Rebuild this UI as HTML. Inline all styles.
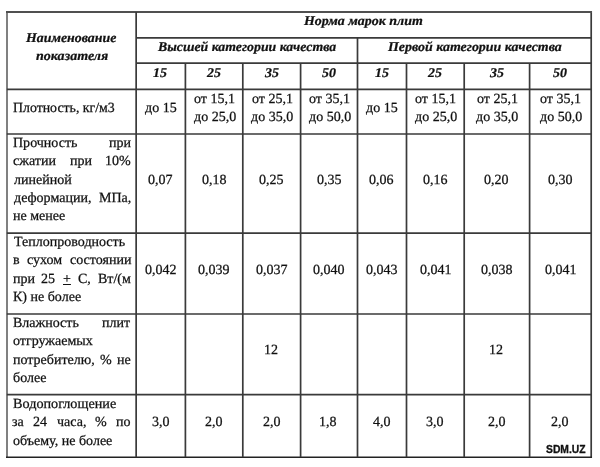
<!DOCTYPE html>
<html><head><meta charset="utf-8"><style>
html,body{margin:0;padding:0;background:#fff}
body{width:600px;height:467px;position:relative;overflow:hidden}
svg{position:absolute;left:0;top:0}
.r,.bi,.w{position:absolute;white-space:pre;line-height:20px;color:#111;transform-origin:0 14px}
.r{-webkit-text-stroke:0.25px #111}
.bi{-webkit-text-stroke:0.25px #111}
.r{font-family:"Liberation Serif",serif;font-size:14.0px;text-rendering:geometricPrecision}
.bi{font-family:"Liberation Serif",serif;font-size:14.0px;font-style:italic;font-weight:bold;text-rendering:geometricPrecision}
.w{font-family:"Liberation Sans",sans-serif;font-weight:bold;font-size:10.5px;color:#111;-webkit-text-stroke:0.3px #111}
</style></head><body>
<svg width="600" height="467" viewBox="0 0 600 467"><line x1="7.0" y1="11" x2="7.0" y2="458" stroke="#808080" stroke-width="2"/><line x1="591.2" y1="11" x2="591.2" y2="458" stroke="#3a3a3a" stroke-width="1.7"/><line x1="6" y1="12.0" x2="592" y2="12.0" stroke="#505050" stroke-width="2"/><line x1="6" y1="457.2" x2="592" y2="457.2" stroke="#222" stroke-width="1.6"/><line x1="136.15" y1="12.1" x2="136.15" y2="457.2" stroke="#3a3a3a" stroke-width="1.7"/><line x1="136.15" y1="37.85" x2="591.2" y2="37.85" stroke="#3a3a3a" stroke-width="1.7"/><line x1="136.15" y1="63.2" x2="591.2" y2="63.2" stroke="#3a3a3a" stroke-width="1.7"/><line x1="6.85" y1="89.3" x2="591.2" y2="89.3" stroke="#3a3a3a" stroke-width="1.7"/><line x1="6.85" y1="134.0" x2="591.2" y2="134.0" stroke="#3a3a3a" stroke-width="1.7"/><line x1="6.85" y1="233.2" x2="591.2" y2="233.2" stroke="#3a3a3a" stroke-width="1.7"/><line x1="6.85" y1="314.0" x2="591.2" y2="314.0" stroke="#3a3a3a" stroke-width="1.7"/><line x1="6.85" y1="394.6" x2="591.2" y2="394.6" stroke="#3a3a3a" stroke-width="1.7"/><line x1="357.5" y1="37.85" x2="357.5" y2="457.2" stroke="#3a3a3a" stroke-width="1.7"/><line x1="185.4" y1="63.2" x2="185.4" y2="457.2" stroke="#3a3a3a" stroke-width="1.7"/><line x1="242.8" y1="63.2" x2="242.8" y2="457.2" stroke="#3a3a3a" stroke-width="1.7"/><line x1="300.6" y1="63.2" x2="300.6" y2="457.2" stroke="#3a3a3a" stroke-width="1.7"/><line x1="406.5" y1="63.2" x2="406.5" y2="457.2" stroke="#3a3a3a" stroke-width="1.7"/><line x1="464.2" y1="63.2" x2="464.2" y2="457.2" stroke="#3a3a3a" stroke-width="1.7"/><line x1="529.6" y1="63.2" x2="529.6" y2="457.2" stroke="#3a3a3a" stroke-width="1.7"/></svg>
<div class="bi" style="left:26.40px;top:29.00px;transform:scale(0.9912,0.95);transform-origin:0 13px">Наименование</div>
<div class="bi" style="left:36.00px;top:47.00px;transform:scale(1.0042,0.95);transform-origin:0 13px">показателя</div>
<div class="bi" style="left:304.20px;top:12.00px;transform:scale(0.9975,0.95);transform-origin:0 13px">Норма марок плит</div>
<div class="bi" style="left:157.50px;top:38.00px;transform:scale(0.9867,0.95);transform-origin:0 13px">Высшей категории качества</div>
<div class="bi" style="left:387.50px;top:38.00px;transform:scale(0.9954,0.95);transform-origin:0 13px">Первой категории качества</div>
<div class="bi" style="left:153.31px;top:64.00px;transform:scale(0.9954,0.95);transform-origin:0 13px">15</div>
<div class="bi" style="left:207.13px;top:64.00px;transform:scale(0.9954,0.95);transform-origin:0 13px">25</div>
<div class="bi" style="left:264.73px;top:64.00px;transform:scale(0.9954,0.95);transform-origin:0 13px">35</div>
<div class="bi" style="left:322.08px;top:64.00px;transform:scale(0.9954,0.95);transform-origin:0 13px">50</div>
<div class="bi" style="left:374.53px;top:64.00px;transform:scale(0.9954,0.95);transform-origin:0 13px">15</div>
<div class="bi" style="left:428.38px;top:64.00px;transform:scale(0.9954,0.95);transform-origin:0 13px">25</div>
<div class="bi" style="left:489.93px;top:64.00px;transform:scale(0.9954,0.95);transform-origin:0 13px">35</div>
<div class="bi" style="left:553.43px;top:64.00px;transform:scale(0.9954,0.95);transform-origin:0 13px">50</div>
<div class="r" style="left:13.01px;top:99.00px;transform:scale(0.9891,1.0);transform-origin:0 13px">Плотность, кг/м3</div>
<div class="r" style="left:12.60px;top:134.00px;transform:scale(1.0009,1.0);transform-origin:0 13px">Прочность</div>
<div class="r" style="left:108.78px;top:134.00px;transform:scale(1.0009,1.0);transform-origin:0 13px">при</div>
<div class="r" style="left:12.60px;top:152.00px;transform:scale(1.0009,1.0);transform-origin:0 13px">сжатии</div>
<div class="r" style="left:70.20px;top:152.00px;transform:scale(1.0009,1.0);transform-origin:0 13px">при</div>
<div class="r" style="left:104.78px;top:152.00px;transform:scale(1.0009,1.0);transform-origin:0 13px">10%</div>
<div class="r" style="left:13.60px;top:171.00px;transform:scale(1.0009,1.0);transform-origin:0 13px">линейной</div>
<div class="r" style="left:13.60px;top:189.00px;transform:scale(1.0009,1.0);transform-origin:0 13px">деформации,</div>
<div class="r" style="left:98.77px;top:189.00px;transform:scale(1.0009,1.0);transform-origin:0 13px">МПа,</div>
<div class="r" style="left:12.60px;top:207.00px;transform:scale(1.0009,1.0);transform-origin:0 13px">не менее</div>
<div class="r" style="left:13.90px;top:233.00px;transform:scale(1.0009,1.0);transform-origin:0 13px">Теплопроводность</div>
<div class="r" style="left:12.60px;top:251.00px;transform:scale(1.0009,1.0);transform-origin:0 13px">в</div>
<div class="r" style="left:27.16px;top:251.00px;transform:scale(1.0009,1.0);transform-origin:0 13px">сухом</div>
<div class="r" style="left:69.75px;top:251.00px;transform:scale(1.0009,1.0);transform-origin:0 13px">состоянии</div>
<div class="r" style="left:12.60px;top:270.00px;transform:scale(1.0009,1.0);transform-origin:0 13px">при</div>
<div class="r" style="left:41.15px;top:270.00px;transform:scale(1.0009,1.0);transform-origin:0 13px">25</div>
<div class="r" style="left:62.69px;top:270.00px;transform:scale(1.0009,1.0);transform-origin:0 13px"><u>+</u></div>
<div class="r" style="left:78.23px;top:270.00px;transform:scale(1.0009,1.0);transform-origin:0 13px">С,</div>
<div class="r" style="left:97.77px;top:270.00px;transform:scale(1.0009,1.0);transform-origin:0 13px">Вт/(м</div>
<div class="r" style="left:12.60px;top:288.00px;transform:scale(1.0009,1.0);transform-origin:0 13px">К) не более</div>
<div class="r" style="left:12.60px;top:314.00px;transform:scale(1.0009,1.0);transform-origin:0 13px">Влажность</div>
<div class="r" style="left:101.77px;top:314.00px;transform:scale(1.0009,1.0);transform-origin:0 13px">плит</div>
<div class="r" style="left:12.60px;top:332.00px;transform:scale(1.0009,1.0);transform-origin:0 13px">отгружаемых</div>
<div class="r" style="left:12.60px;top:351.00px;transform:scale(1.0009,1.0);transform-origin:0 13px">потребителю,</div>
<div class="r" style="left:99.73px;top:351.00px;transform:scale(1.0009,1.0);transform-origin:0 13px">%</div>
<div class="r" style="left:116.79px;top:351.00px;transform:scale(1.0009,1.0);transform-origin:0 13px">не</div>
<div class="r" style="left:12.60px;top:369.00px;transform:scale(1.0009,1.0);transform-origin:0 13px">более</div>
<div class="r" style="left:12.89px;top:395.00px;transform:scale(1.0140,1.0);transform-origin:0 13px">Водопоглощение</div>
<div class="r" style="left:11.60px;top:413.00px;transform:scale(1.0009,1.0);transform-origin:0 13px">за</div>
<div class="r" style="left:32.64px;top:413.00px;transform:scale(1.0009,1.0);transform-origin:0 13px">24</div>
<div class="r" style="left:56.69px;top:413.00px;transform:scale(1.0009,1.0);transform-origin:0 13px">часа,</div>
<div class="r" style="left:94.74px;top:413.00px;transform:scale(1.0009,1.0);transform-origin:0 13px">%</div>
<div class="r" style="left:115.79px;top:413.00px;transform:scale(1.0009,1.0);transform-origin:0 13px">по</div>
<div class="r" style="left:12.60px;top:432.00px;transform:scale(1.0009,1.0);transform-origin:0 13px">объему, не более</div>
<div class="r" style="left:145.26px;top:99.00px;transform:scale(1.0009,1.0);transform-origin:0 13px">до 15</div>
<div class="r" style="left:194.08px;top:90.00px;transform:scale(1.0009,1.0);transform-origin:0 13px">от 15,1</div>
<div class="r" style="left:193.58px;top:108.00px;transform:scale(1.0009,1.0);transform-origin:0 13px">до 25,0</div>
<div class="r" style="left:251.68px;top:90.00px;transform:scale(1.0009,1.0);transform-origin:0 13px">от 25,1</div>
<div class="r" style="left:251.18px;top:108.00px;transform:scale(1.0009,1.0);transform-origin:0 13px">до 35,0</div>
<div class="r" style="left:309.03px;top:90.00px;transform:scale(1.0009,1.0);transform-origin:0 13px">от 35,1</div>
<div class="r" style="left:308.53px;top:108.00px;transform:scale(1.0009,1.0);transform-origin:0 13px">до 50,0</div>
<div class="r" style="left:366.49px;top:99.00px;transform:scale(1.0009,1.0);transform-origin:0 13px">до 15</div>
<div class="r" style="left:415.33px;top:90.00px;transform:scale(1.0009,1.0);transform-origin:0 13px">от 15,1</div>
<div class="r" style="left:414.83px;top:108.00px;transform:scale(1.0009,1.0);transform-origin:0 13px">до 25,0</div>
<div class="r" style="left:476.88px;top:90.00px;transform:scale(1.0009,1.0);transform-origin:0 13px">от 25,1</div>
<div class="r" style="left:476.38px;top:108.00px;transform:scale(1.0009,1.0);transform-origin:0 13px">до 35,0</div>
<div class="r" style="left:540.38px;top:90.00px;transform:scale(1.0009,1.0);transform-origin:0 13px">от 35,1</div>
<div class="r" style="left:539.88px;top:108.00px;transform:scale(1.0009,1.0);transform-origin:0 13px">до 50,0</div>
<div class="r" style="left:148.26px;top:171.00px;transform:scale(1.0009,1.0);transform-origin:0 13px">0,07</div>
<div class="r" style="left:201.59px;top:171.00px;transform:scale(1.0009,1.0);transform-origin:0 13px">0,18</div>
<div class="r" style="left:259.19px;top:171.00px;transform:scale(1.0009,1.0);transform-origin:0 13px">0,25</div>
<div class="r" style="left:316.54px;top:171.00px;transform:scale(1.0009,1.0);transform-origin:0 13px">0,35</div>
<div class="r" style="left:369.49px;top:171.00px;transform:scale(1.0009,1.0);transform-origin:0 13px">0,06</div>
<div class="r" style="left:422.84px;top:171.00px;transform:scale(1.0009,1.0);transform-origin:0 13px">0,16</div>
<div class="r" style="left:484.39px;top:171.00px;transform:scale(1.0009,1.0);transform-origin:0 13px">0,20</div>
<div class="r" style="left:547.89px;top:171.00px;transform:scale(1.0009,1.0);transform-origin:0 13px">0,30</div>
<div class="r" style="left:144.76px;top:261.00px;transform:scale(1.0009,1.0);transform-origin:0 13px">0,042</div>
<div class="r" style="left:198.09px;top:261.00px;transform:scale(1.0009,1.0);transform-origin:0 13px">0,039</div>
<div class="r" style="left:255.69px;top:261.00px;transform:scale(1.0009,1.0);transform-origin:0 13px">0,037</div>
<div class="r" style="left:313.04px;top:261.00px;transform:scale(1.0009,1.0);transform-origin:0 13px">0,040</div>
<div class="r" style="left:365.99px;top:261.00px;transform:scale(1.0009,1.0);transform-origin:0 13px">0,043</div>
<div class="r" style="left:420.34px;top:261.00px;transform:scale(1.0009,1.0);transform-origin:0 13px">0,041</div>
<div class="r" style="left:480.89px;top:261.00px;transform:scale(1.0009,1.0);transform-origin:0 13px">0,038</div>
<div class="r" style="left:545.39px;top:261.00px;transform:scale(1.0009,1.0);transform-origin:0 13px">0,041</div>
<div class="r" style="left:263.69px;top:341.00px;transform:scale(1.0009,1.0);transform-origin:0 13px">12</div>
<div class="r" style="left:488.89px;top:341.00px;transform:scale(1.0009,1.0);transform-origin:0 13px">12</div>
<div class="r" style="left:151.77px;top:413.00px;transform:scale(1.0009,1.0);transform-origin:0 13px">3,0</div>
<div class="r" style="left:205.09px;top:413.00px;transform:scale(1.0009,1.0);transform-origin:0 13px">2,0</div>
<div class="r" style="left:262.69px;top:413.00px;transform:scale(1.0009,1.0);transform-origin:0 13px">2,0</div>
<div class="r" style="left:319.04px;top:413.00px;transform:scale(1.0009,1.0);transform-origin:0 13px">1,8</div>
<div class="r" style="left:373.49px;top:413.00px;transform:scale(1.0009,1.0);transform-origin:0 13px">4,0</div>
<div class="r" style="left:426.34px;top:413.00px;transform:scale(1.0009,1.0);transform-origin:0 13px">3,0</div>
<div class="r" style="left:487.89px;top:413.00px;transform:scale(1.0009,1.0);transform-origin:0 13px">2,0</div>
<div class="r" style="left:551.39px;top:413.00px;transform:scale(1.0009,1.0);transform-origin:0 13px">2,0</div>
<div class="w" style="left:545.90px;top:439.00px;transform:scale(0.9825,1.0);transform-origin:0 14px">SDM.UZ</div>
</body></html>
